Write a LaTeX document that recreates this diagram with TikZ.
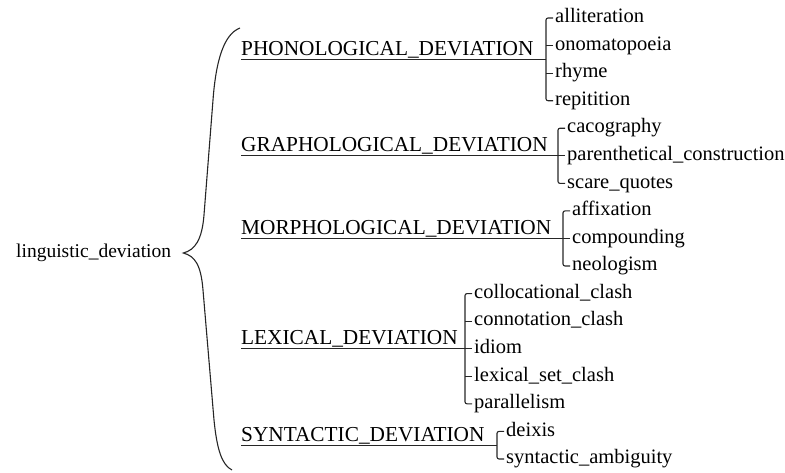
\documentclass[tikz,border=0pt]{standalone}
\usepackage{fontspec}
\newfontfamily\treefont{Liberation Serif}

\begin{document}
\begin{tikzpicture}[x=1pt,y=-1pt,
	leaf/.style={anchor=west,inner xsep=2pt,inner ysep=0pt,text height=14pt,text depth=4.5pt,font=\fontsize{20.5}{24}\selectfont\treefont},
	cat/.style={anchor=base west,inner sep=0pt,font=\fontsize{21.3}{24}\selectfont\treefont},
	link/.style={line width=1.1pt,black!85}]

	\useasboundingbox (0,0) rectangle (785,472);

	% root and brace
	\node[leaf,inner xsep=0pt,font=\fontsize{19.5}{24}\selectfont\treefont] (root) at (16,253) {linguistic\_deviation};
	\coordinate (tip) at ([xshift=12pt]root.east);
	\coordinate (braceTop) at (240,28);
	\coordinate (braceBot) at (232,470);
	\draw[link] (braceTop) .. controls (224,34) and (216,60) .. (213,100) -- (204,215)
		.. controls (202,240) and (195,250) .. (tip)
		.. controls (195,256) and (201,265) .. (203,290) -- (214,420)
		.. controls (217,450) and (222,465) .. (braceBot);

	% phonological
	\node[cat] (phon) at (241,55.4) {PHONOLOGICAL\_DEVIATION};
	\coordinate (phonJ) at (546,59.4);
	\node[leaf] (allit) at (553,18) {alliteration};
	\node[leaf] (onom) at (553,45.6) {onomatopoeia};
	\node[leaf] (rhyme) at (553,73.1) {rhyme};
	\node[leaf] (repit) at (553,100.7) {repitition};
	\draw[link] (phon.base west |- phonJ) -- (phonJ);
	\draw[link,rounded corners=2pt] (allit.west) -| (phonJ) |- (repit.west);
	\draw[link] (onom.west) -- (onom.west -| phonJ);
	\draw[link] (rhyme.west) -- (rhyme.west -| phonJ);

	% graphological
	\node[cat] (graph) at (241,151.8) {GRAPHOLOGICAL\_DEVIATION};
	\coordinate (graphJ) at (558,155.8);
	\node[leaf] (caco) at (565,128.2) {cacography};
	\node[leaf] (paren) at (565,155.8) {parenthetical\_construction};
	\node[leaf] (scare) at (565,183.4) {scare\_quotes};
	\draw[link] (graph.base west |- graphJ) -- (paren.west);
	\draw[link,rounded corners=2pt] (caco.west) -| (graphJ) |- (scare.west);

	% morphological
	\node[cat] (morph) at (241,234.5) {MORPHOLOGICAL\_DEVIATION};
	\coordinate (morphJ) at (563,238.5);
	\node[leaf] (affix) at (570,210.9) {affixation};
	\node[leaf] (compo) at (570,238.5) {compounding};
	\node[leaf] (neolo) at (570,266) {neologism};
	\draw[link] (morph.base west |- morphJ) -- (compo.west);
	\draw[link,rounded corners=2pt] (affix.west) -| (morphJ) |- (neolo.west);

	% lexical
	\node[cat] (lex) at (241,344.7) {LEXICAL\_DEVIATION};
	\coordinate (lexJ) at (465,348.7);
	\node[leaf] (collo) at (472,293.6) {collocational\_clash};
	\node[leaf] (conno) at (472,321.2) {connotation\_clash};
	\node[leaf] (idiom) at (472,348.7) {idiom};
	\node[leaf] (lexset) at (472,376.3) {lexical\_set\_clash};
	\node[leaf] (paral) at (472,403.8) {parallelism};
	\draw[link] (lex.base west |- lexJ) -- (idiom.west);
	\draw[link,rounded corners=2pt] (collo.west) -| (lexJ) |- (paral.west);
	\draw[link] (conno.west) -- (conno.west -| lexJ);
	\draw[link] (lexset.west) -- (lexset.west -| lexJ);

	% syntactic
	\node[cat] (syn) at (241,441.2) {SYNTACTIC\_DEVIATION};
	\coordinate (synJ) at (497,445.2);
	\node[leaf] (deixis) at (504,431.4) {deixis};
	\node[leaf] (ambig) at (504,459) {syntactic\_ambiguity};
	\draw[link] (syn.base west |- synJ) -- (synJ);
	\draw[link,rounded corners=2pt] (deixis.west) -| (synJ) |- (ambig.west);

\end{tikzpicture}
\end{document}
